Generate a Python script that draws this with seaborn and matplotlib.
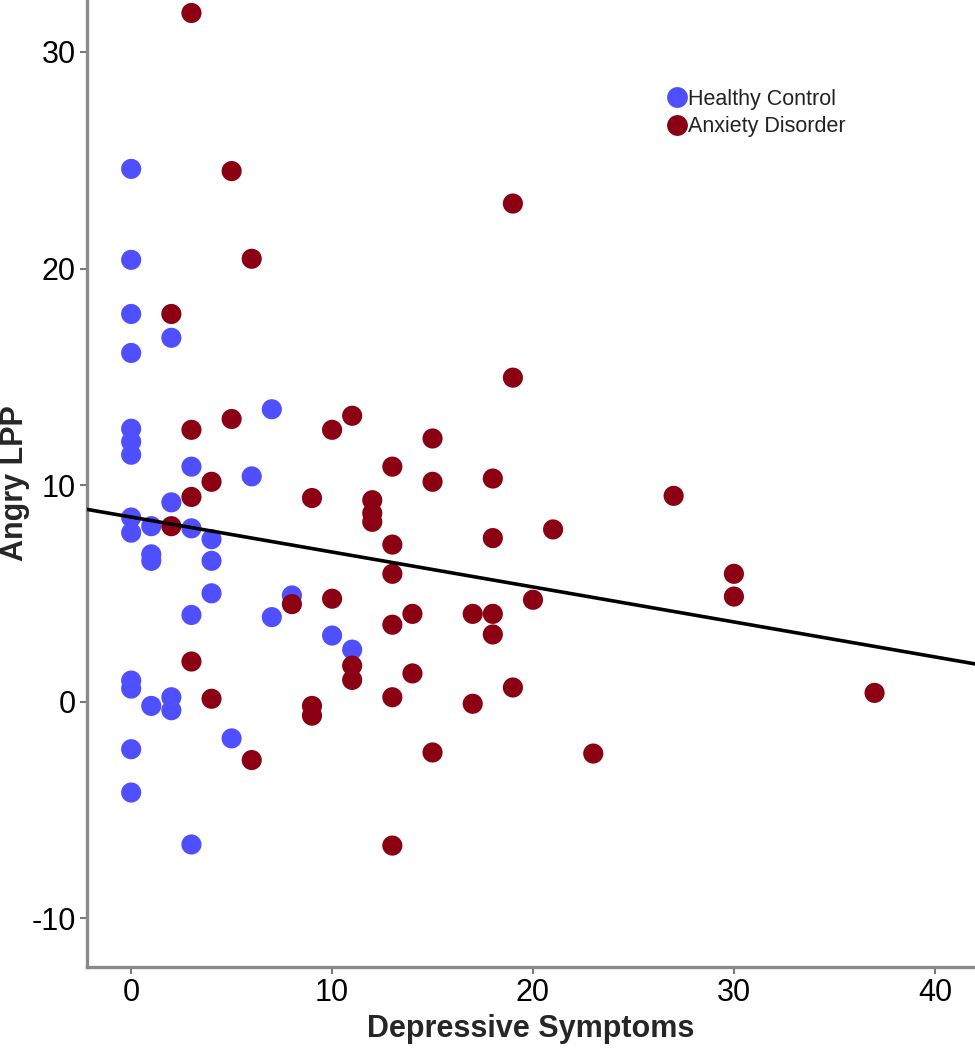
import numpy as np
import pandas as pd
import matplotlib
matplotlib.use("Agg")
import matplotlib.pyplot as plt
import seaborn as sns
from matplotlib.lines import Line2D

groups = ["Healthy Control", "Anxiety Disorder"]
colors = ["#4F4FFF", "#8B0012"]

hc_x = [0, 0, 0, 0, 0, 0, 0, 0, 0, 0, 0, 0, 0,
        1, 1, 1, 1,
        2, 2, 2, 2,
        3, 3, 3, 3,
        4, 4, 4,
        5, 6, 7, 7, 8, 10, 11]
hc_y = [24.6, 20.4, 17.9, 16.1, 12.6, 12.0, 11.4, 8.5, 7.8, 0.97, 0.6, -2.2, -4.2,
        8.1, 6.8, 6.5, -0.2,
        16.8, 9.2, 0.2, -0.4,
        10.85, 8.0, 4.0, -6.6,
        7.5, 6.5, 5.0,
        -1.7, 10.4, 13.5, 3.9, 4.9, 3.05, 2.4]

ad_x = [2, 2,
        3, 3, 3, 3,
        4, 4,
        5, 5,
        6, 6,
        8,
        9, 9, 9,
        10, 10,
        11, 11, 11,
        12, 12, 12,
        13, 13, 13, 13, 13, 13,
        14, 14,
        15, 15, 15,
        17, 17,
        18, 18, 18, 18,
        19, 19, 19,
        20, 21, 23, 27, 30, 30, 37]
ad_y = [17.9, 8.1,
        31.8, 12.55, 9.45, 1.85,
        10.15, 0.13,
        24.5, 13.05,
        20.45, -2.7,
        4.5,
        9.4, -0.2, -0.65,
        12.55, 4.75,
        13.2, 1.66, 1.0,
        9.3, 8.7, 8.3,
        10.85, 7.25, 5.9, 3.55, 0.2, -6.65,
        4.05, 1.3,
        12.15, 10.15, -2.35,
        4.05, -0.1,
        10.3, 7.55, 4.05, 3.1,
        23.0, 14.96, 0.65,
        4.7, 7.95, -2.4, 9.5, 5.9, 4.85, 0.4]

df = pd.DataFrame({
    "Depressive Symptoms": hc_x + ad_x,
    "Angry LPP": hc_y + ad_y,
    "Group": [groups[0]] * len(hc_x) + [groups[1]] * len(ad_x),
})

sns.set_style("white")
plt.rcParams["font.family"] = ["Liberation Sans Narrow", "Liberation Sans", "DejaVu Sans"]
plt.rcParams["axes.unicode_minus"] = False

fig = plt.figure(figsize=(9.75, 10.5), dpi=100)
ax = fig.add_axes([0.0892, 0.079, 0.9108, 0.921])
ax.set_xlim(-2.2, 42.0)
ax.set_ylim(-12.26, 32.4)

sns.scatterplot(data=df, x="Depressive Symptoms", y="Angry LPP", hue="Group",
                hue_order=groups, palette=colors, s=210, linewidth=0,
                alpha=1.0, legend=False, ax=ax, zorder=2)
sns.regplot(data=df, x="Depressive Symptoms", y="Angry LPP", scatter=False,
            ci=None, truncate=False, color="black", line_kws={"lw": 2.6, "zorder": 3}, ax=ax)
ax.set_xlim(-2.2, 42.0)
ax.set_ylim(-12.26, 32.4)

ax.set_xticks([0, 10, 20, 30, 40])
ax.set_yticks([-10, 0, 10, 20, 30])
ax.tick_params(axis="both", labelsize=22, length=5, width=1.5, color="#777777",
               direction="out", pad=3, bottom=True, left=True, labelcolor="black")
for side in ["top", "right"]:
    ax.spines[side].set_visible(False)
for side in ["left", "bottom"]:
    ax.spines[side].set_color("#8a8a8a")
    ax.spines[side].set_linewidth(2.4)

ax.set_xlabel("Depressive Symptoms", fontsize=22, fontweight="bold", labelpad=4)
ax.set_ylabel("Angry LPP", fontsize=22, fontweight="bold", va="center")
ax.yaxis.set_label_coords(-0.081, 0.5)

handles = [Line2D([0], [0], marker="o", linestyle="", markersize=15,
                  markerfacecolor=c, markeredgewidth=0) for c in colors]
leg = ax.legend(handles, groups, loc="upper left", bbox_to_anchor=(0.643, 0.917),
                frameon=False, fontsize=15.5, handletextpad=0.0, labelspacing=0.3,
                borderaxespad=0, handlelength=1.0)
for t in leg.get_texts():
    t.set_color("#222222")

fig.savefig("out.png", dpi=100)
